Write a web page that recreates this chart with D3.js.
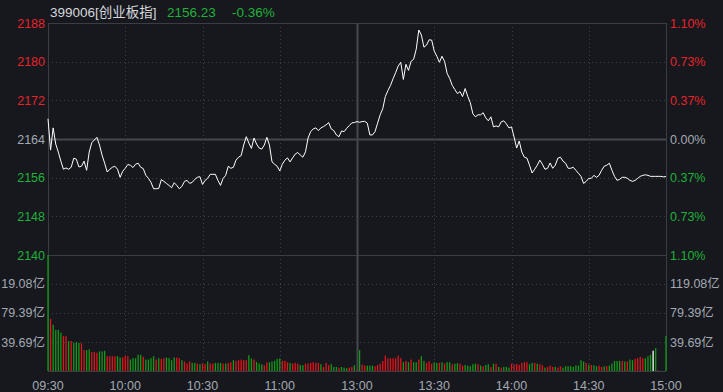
<!DOCTYPE html>
<html>
<head>
<meta charset="utf-8">
<script src="https://cdn.jsdelivr.net/npm/d3@7/dist/d3.min.js"></script>
<style>
  html, body { margin: 0; padding: 0; background: #16181d; }
  svg { display: block; }
  text { font-family: "Liberation Sans", Arial, "Noto Sans CJK SC", sans-serif; }
</style>
</head>
<body>
<svg id="chart" width="723" height="392"></svg>
<script>
// ---------- DATA ----------
const code = "399006[创业板指]";
const lastPrice = "2156.23";
const lastChange = "-0.36%";
const prevClose = 2164;

const priceTicks = [2188, 2180, 2172, 2164, 2156, 2148, 2140];
const pctLabels = ["1.10%", "0.73%", "0.37%", "0.00%", "0.37%", "0.73%", "1.10%"];
const volTicks = [119.08, 79.39, 39.69];
const volLabelsLeft = ["19.08亿", "79.39亿", "39.69亿"];
const volLabelsRight = ["119.08亿", "79.39亿", "39.69亿"];
const timeTicks = [0, 30, 60, 90, 120, 150, 180, 210, 240];
const timeLabels = ["09:30", "10:00", "10:30", "11:00", "13:00", "13:30", "14:00", "14:30", "15:00"];

// minute-by-minute index price (241 slots: 09:30-11:30, 13:01-15:00)
const prices = [
  2168.18, 2161.70, 2166.30, 2162.96, 2161.29, 2159.41, 2157.74, 2158.01, 2157.74, 2158.15,
  2160.03, 2159.82, 2158.22, 2158.36, 2159.41, 2157.53, 2161.29, 2163.23, 2163.79, 2164.35,
  2162.75, 2160.66, 2158.99, 2157.17, 2157.74, 2158.15, 2158.36, 2157.74, 2156.07, 2157.32,
  2157.94, 2158.72, 2158.57, 2158.09, 2158.78, 2158.99, 2158.15, 2157.88, 2156.48, 2155.86,
  2155.02, 2153.71, 2153.71, 2153.77, 2155.59, 2155.23, 2154.81, 2154.40, 2153.91, 2154.96,
  2154.40, 2153.71, 2154.19, 2155.23, 2155.44, 2154.81, 2155.02, 2155.65, 2156.07, 2156.21,
  2154.60, 2155.44, 2155.86, 2156.69, 2156.69, 2156.69, 2155.44, 2154.40, 2155.86, 2156.48,
  2158.36, 2157.94, 2158.15, 2159.62, 2160.24, 2160.55, 2162.75, 2164.48, 2163.16, 2162.06,
  2164.21, 2162.96, 2162.12, 2161.91, 2162.75, 2164.35, 2162.75, 2159.26, 2158.78, 2158.36,
  2157.38, 2158.78, 2159.62, 2160.10, 2159.26, 2160.10, 2160.87, 2161.22, 2160.66, 2160.24,
  2161.35, 2164.21, 2165.52, 2166.09, 2166.30, 2165.73, 2166.30, 2166.57, 2166.92, 2167.40,
  2166.09, 2165.73, 2164.84, 2164.48, 2165.67, 2165.52, 2166.23, 2166.78, 2167.34, 2167.40,
  2167.61, 2167.45, 2167.61, 2167.65, 2167.28, 2164.84, 2164.84, 2165.52, 2167.28, 2169.01,
  2170.26, 2172.77, 2174.02, 2175.07, 2176.47, 2177.72, 2179.10, 2179.87, 2176.32, 2179.45,
  2178.20, 2180.08, 2180.50, 2182.58, 2186.55, 2185.51, 2183.00, 2183.42, 2184.53, 2184.46,
  2182.17, 2181.12, 2179.87, 2181.12, 2180.08, 2177.57, 2176.53, 2175.07, 2174.23, 2173.40,
  2173.81, 2172.77, 2174.44, 2172.83, 2171.52, 2169.22, 2168.59, 2169.01, 2169.01, 2169.43,
  2168.38, 2167.76, 2168.59, 2166.51, 2166.71, 2166.51, 2167.55, 2167.76, 2167.13, 2166.30,
  2166.51, 2164.42, 2162.12, 2163.58, 2161.29, 2160.24, 2160.03, 2158.57, 2156.96, 2157.74,
  2158.57, 2159.62, 2158.78, 2157.74, 2157.94, 2159.05, 2157.94, 2158.57, 2160.03, 2160.24,
  2159.41, 2158.99, 2157.94, 2157.94, 2158.15, 2157.53, 2156.90, 2156.27, 2154.81, 2155.23,
  2155.86, 2155.86, 2156.48, 2156.07, 2156.48, 2157.53, 2158.36, 2158.57, 2158.99, 2157.53,
  2156.27, 2155.44, 2155.65, 2156.07, 2156.07, 2155.86, 2155.44, 2155.23, 2155.44, 2155.86,
  2156.27, 2156.48, 2156.59, 2156.48, 2156.27, 2156.27, 2156.27, 2156.27, 2156.27, 2156.17, 2156.23
];

// per-minute turnover (亿)
const volumes = [
  165, 71.5, 63.2, 56.3, 56.3, 52.6, 47.8, 47.8, 41.0, 41.0,
  38.7, 39.7, 38.7, 37.9, 28.6, 28.6, 29.5, 25.9, 25.9, 25.0,
  26.8, 26.8, 27.7, 20.3, 20.3, 20.3, 20.3, 20.3, 18.5, 18.5,
  20.3, 20.3, 15.7, 17.6, 17.6, 22.2, 22.2, 19.4, 15.7, 15.7,
  17.6, 20.3, 15.7, 17.6, 16.6, 17.6, 18.5, 17.6, 14.8, 18.5,
  18.5, 17.6, 14.8, 13.0, 10.2, 13.0, 11.1, 11.1, 10.2, 9.3,
  10.2, 9.3, 13.0, 10.2, 10.2, 11.1, 11.1, 11.1, 10.2, 10.2,
  11.1, 12.0, 14.8, 13.9, 14.8, 15.7, 14.8, 14.8, 21.7, 17.1,
  15.7, 12.5, 10.2, 9.3, 7.9, 12.0, 12.0, 13.0, 13.9, 16.6,
  17.1, 13.9, 13.9, 12.0, 11.1, 10.2, 11.1, 10.2, 8.3, 7.9,
  10.2, 10.2, 11.1, 12.0, 11.1, 11.1, 9.3, 5.5, 11.1, 7.9,
  9.3, 5.5, 5.5, 4.6, 5.5, 4.6, 3.7, 4.6, 5.5, 7.9,
  0.9, 28.6, 8.8, 7.4, 7.4, 7.4, 7.4, 6.5, 8.3, 10.1,
  13.8, 21.2, 17.5, 17.5, 17.5, 17.5, 21.2, 17.5, 12.0, 13.8,
  12.0, 15.7, 12.0, 12.0, 15.7, 20.3, 13.8, 11.1, 13.4, 10.1,
  12.0, 11.1, 11.1, 12.0, 10.1, 12.0, 12.0, 9.3, 10.1, 10.6,
  10.1, 7.4, 8.3, 7.4, 6.5, 9.3, 10.1, 9.3, 7.4, 6.5,
  8.3, 9.3, 5.6, 10.1, 10.1, 5.6, 4.6, 5.6, 5.6, 4.6,
  10.1, 9.3, 9.3, 8.3, 11.1, 12.0, 12.0, 9.3, 11.1, 11.1,
  10.1, 9.3, 7.9, 4.6, 5.6, 7.4, 5.6, 5.6, 4.6, 6.5,
  4.6, 6.5, 6.5, 6.5, 5.6, 7.4, 7.4, 14.8, 13.0, 11.1,
  8.8, 8.3, 7.9, 6.5, 7.4, 5.6, 6.5, 6.5, 7.4, 10.1,
  13.8, 13.8, 13.8, 13.8, 13.0, 13.0, 15.7, 14.8, 16.6, 17.5,
  19.4, 17.5, 17.5, 20.3, 22.2, 27.7, 31.4, 0.9, 0, 0, 47.9
];

// bar direction: 1 = up (red), -1 = down (green), 0 = flat (white)
const volDir = [
  -1, 1, -1, -1, -1, -1, 1, 1, -1, 1,
  -1, -1, -1, 1, 1, -1, -1, 1, 1, 1,
  -1, -1, -1, 1, 1, 1, 1, -1, -1, 1,
  1, 1, -1, -1, -1, -1, -1, 1, -1, -1,
  -1, -1, 1, -1, 1, 1, -1, -1, -1, -1,
  1, 1, -1, 1, 1, 1, -1, -1, 1, -1,
  1, 1, -1, 1, 1, -1, -1, -1, 1, -1,
  1, 1, -1, 1, 1, 1, 1, 1, -1, -1,
  1, -1, -1, -1, 1, 1, -1, -1, -1, -1,
  -1, 1, 1, 1, -1, 1, 1, 1, -1, -1,
  1, 1, 1, 1, 1, 1, -1, 1, 1, 1,
  -1, -1, -1, 1, -1, -1, -1, 1, 1, -1,
  1, -1, 1, 1, -1, -1, -1, 1, 1, 1,
  1, 1, 1, 1, 1, 1, 1, 1, -1, 1,
  -1, 1, -1, -1, 1, -1, -1, 1, 1, 1,
  -1, -1, 1, -1, 1, -1, -1, 1, -1, -1,
  1, 1, -1, -1, -1, -1, -1, 1, -1, 1,
  -1, -1, 1, -1, 1, -1, 1, -1, -1, -1,
  1, 1, 1, 1, 1, 1, 1, -1, -1, 1,
  -1, 1, 1, -1, 1, 1, 1, -1, 1, 1,
  -1, -1, -1, -1, -1, -1, -1, -1, -1, 1,
  -1, 1, -1, -1, 1, 1, -1, 1, -1, -1,
  -1, -1, -1, 1, -1, 1, -1, -1, 1, 1,
  1, 1, -1, -1, -1, 0, -1, 1, 1, 1, -1
];

// ---------- STYLE ----------
const C = {
  red: "#e8232b", green: "#1fb13a", gray: "#a3a9b3", white: "#ffffff",
  grid: "#3d4048", border: "#3a3d44", mid: "#45474e",
  barRed: "#e1141b", barGreen: "#139a16"
};

const svg = d3.select("#chart");
svg.append("rect").attr("width", 723).attr("height", 392).attr("fill", "#16181d");

const left = 48, right = 666;
const pTop = 23, pBot = 255, vTop = 255, vBot = 371;

const x = d3.scaleLinear().domain([0, 240]).range([left, right]);
const y = d3.scaleLinear().domain([2140, 2188]).range([pBot, pTop]);
const yv = d3.scaleLinear().domain([0, 158.77]).range([vBot, vTop]).clamp(true);

const g = svg.append("g");

// horizontal price grid
priceTicks.forEach(t => {
  const isBorder = (t === 2188 || t === 2140);
  const isMid = t === prevClose;
  g.append("line")
    .attr("x1", left).attr("x2", right)
    .attr("y1", Math.round(y(t)) + 0.5).attr("y2", Math.round(y(t)) + 0.5)
    .attr("stroke", isMid ? C.mid : (isBorder ? C.border : C.grid))
    .attr("stroke-width", isMid ? 2 : 1)
    .attr("stroke-dasharray", (isBorder || isMid) ? null : "1,3");
});
// volume grid
volTicks.forEach(t => {
  g.append("line")
    .attr("x1", left).attr("x2", right)
    .attr("y1", Math.round(yv(t)) + 0.5).attr("y2", Math.round(yv(t)) + 0.5)
    .attr("stroke", C.grid).attr("stroke-dasharray", "1,3");
});
g.append("line").attr("x1", left).attr("x2", right)
  .attr("y1", vBot + 0.5).attr("y2", vBot + 0.5).attr("stroke", C.border);

// vertical grid
timeTicks.forEach(t => {
  const solid = (t === 0 || t === 120 || t === 240);
  g.append("line")
    .attr("x1", Math.round(x(t)) + 0.5).attr("x2", Math.round(x(t)) + 0.5)
    .attr("y1", pTop).attr("y2", vBot)
    .attr("stroke", t === 120 ? C.mid : (solid ? C.border : C.grid))
    .attr("stroke-width", t === 120 ? 2 : 1)
    .attr("stroke-dasharray", solid ? null : "1,3");
});

// volume bars
g.append("g").selectAll("rect").data(volumes).join("rect")
  .attr("x", (d, i) => x(i) - 0.65)
  .attr("width", 1.3)
  .attr("y", d => yv(d))
  .attr("height", d => vBot - yv(d))
  .attr("fill", (d, i) => volDir[i] > 0 ? C.barRed : (volDir[i] < 0 ? C.barGreen : C.white));

// price line
const line = d3.line().x((d, i) => x(i)).y(d => y(d));
g.append("path").datum(prices)
  .attr("d", line).attr("fill", "none")
  .attr("stroke", C.white).attr("stroke-width", 1);

const fs = 12.5;
// left price axis labels
priceTicks.forEach(t => {
  const col = t > prevClose ? C.red : (t < prevClose ? C.green : C.gray);
  svg.append("text").attr("x", 45).attr("y", y(t)).attr("dy", "0.36em")
    .attr("text-anchor", "end").attr("font-size", fs).attr("fill", col).text(t);
});
// right percent labels
priceTicks.forEach((t, i) => {
  const col = t > prevClose ? C.red : (t < prevClose ? C.green : C.gray);
  svg.append("text").attr("x", 670).attr("y", y(t)).attr("dy", "0.36em")
    .attr("font-size", fs).attr("fill", col).text(pctLabels[i]);
});
// volume labels
volTicks.forEach((t, i) => {
  svg.append("text").attr("x", 45).attr("y", yv(t)).attr("dy", "0.36em")
    .attr("text-anchor", "end").attr("font-size", fs).attr("fill", C.gray).text(volLabelsLeft[i]);
  svg.append("text").attr("x", 670).attr("y", yv(t)).attr("dy", "0.36em")
    .attr("font-size", fs).attr("fill", C.gray).text(volLabelsRight[i]);
});
// time labels
timeTicks.forEach((t, i) => {
  svg.append("text").attr("x", x(t)).attr("y", 385.5).attr("dy", "0.36em")
    .attr("text-anchor", "middle").attr("font-size", fs).attr("fill", C.gray).text(timeLabels[i]);
});

// header
svg.append("text").attr("x", 50).attr("y", 17).attr("font-size", 13.5).attr("fill", "#d5d8de").text(code);
svg.append("text").attr("x", 167).attr("y", 17).attr("font-size", 13.5).attr("fill", C.green).text(lastPrice);
svg.append("text").attr("x", 232).attr("y", 17).attr("font-size", 13.5).attr("fill", C.green).text(lastChange);
</script>
</body>
</html>
